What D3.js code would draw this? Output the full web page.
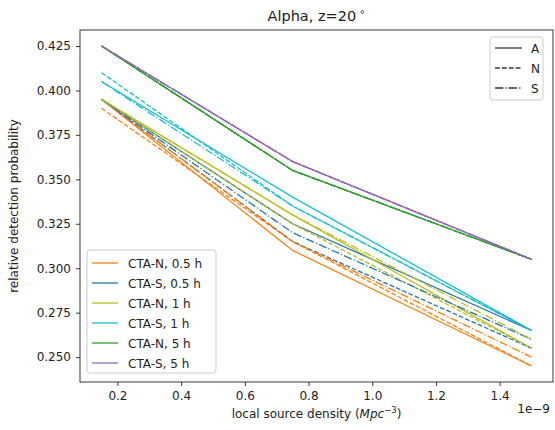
<!DOCTYPE html>
<html>
<head>
<meta charset="utf-8">
<script src="https://cdn.jsdelivr.net/npm/d3@7"></script>
<style>
  body { margin: 0; background: #fff; }
  svg text { font-family: "DejaVu Sans", sans-serif; fill: #222; }
</style>
</head>
<body>
<div id="chart"></div>
<script>
// densities in units of 1e-9 Mpc^-3
const densities = [0.15, 0.75, 1.5]
const xTicks = [0.2, 0.4, 0.6, 0.8, 1.0, 1.2, 1.4]
const yTicks = [0.250, 0.275, 0.300, 0.325, 0.350, 0.375, 0.400, 0.425]

const seriesNames = ['CTA-N, 0.5 h', 'CTA-S, 0.5 h', 'CTA-N, 1 h', 'CTA-S, 1 h', 'CTA-N, 5 h', 'CTA-S, 5 h']
const seriesColors = ['#ff7f0e', '#1f77b4', '#bcbd22', '#17becf', '#2ca02c', '#9467bd']
const styleNames = ['A', 'N', 'S']

// values per series, for A (solid), N (dashed), S (dash-dot)
const valuesA = [
  [0.395, 0.310, 0.245],
  [0.395, 0.325, 0.265],
  [0.395, 0.330, 0.255],
  [0.405, 0.340, 0.265],
  [0.425, 0.355, 0.305],
  [0.425, 0.360, 0.305]
]
const valuesN = [
  [0.390, 0.315, 0.245],
  [0.395, 0.315, 0.255],
  [0.395, 0.325, 0.255],
  [0.410, 0.335, 0.265],
  [0.425, 0.355, 0.305],
  [0.425, 0.360, 0.305]
]
const valuesS = [
  [0.395, 0.315, 0.250],
  [0.395, 0.320, 0.260],
  [0.395, 0.330, 0.260],
  [0.405, 0.335, 0.265],
  [0.425, 0.355, 0.305],
  [0.425, 0.360, 0.305]
]

const W = 555, H = 430
const margin = {left: 80, right: 2, top: 30, bottom: 48}
const lw = 1.3
const dashes = ['', `${3.7*lw},${1.6*lw}`, `${6.4*lw},${1.6*lw},${1*lw},${1.6*lw}`]

const svg = d3.select('#chart').append('svg')
  .attr('width', W)
  .attr('height', H)

const x = d3.scaleLinear().domain([0.0825, 1.5675]).range([margin.left, W - margin.right])
const y = d3.scaleLinear().domain([0.236, 0.434]).range([H - margin.bottom, margin.top])

const xAxis = svg.append('g')
  .attr('transform', `translate(0,${H - margin.bottom})`)
  .call(d3.axisBottom(x).tickValues(xTicks).tickFormat(d3.format('.1f')).tickSize(4).tickPadding(5))
const yAxis = svg.append('g')
  .attr('transform', `translate(${margin.left},0)`)
  .call(d3.axisLeft(y).tickValues(yTicks).tickFormat(d3.format('.3f')).tickSize(4).tickPadding(5))
for (const ax of [xAxis, yAxis]) {
  ax.select('.domain').remove()
  ax.selectAll('text').attr('font-size', 12).attr('font-family', 'DejaVu Sans').style('fill', '#222')
  ax.selectAll('line').attr('stroke', '#222').attr('stroke-width', 0.9)
}

const line = d3.line().x((d, i) => x(densities[i])).y(d => y(d))
const allValues = [valuesA, valuesN, valuesS]

const plot = svg.append('g')
allValues.forEach((vals, s) => {
  vals.forEach((v, k) => {
    plot.append('path')
      .datum(v)
      .attr('d', line)
      .attr('fill', 'none')
      .attr('stroke', seriesColors[k])
      .attr('stroke-width', lw)
      .attr('stroke-dasharray', dashes[s] || null)
  })
})

svg.append('rect')
  .attr('x', margin.left).attr('y', margin.top)
  .attr('width', W - margin.right - margin.left)
  .attr('height', H - margin.bottom - margin.top)
  .attr('fill', 'none').attr('stroke', '#222').attr('stroke-width', 0.9)

// title and labels
svg.append('text').attr('x', (margin.left + W - margin.right) / 2).attr('y', 21)
  .attr('text-anchor', 'middle').attr('font-size', 14.5)
  .html('Alpha, z=20<tspan dx="3" dy="-6" font-size="10">∘</tspan>')

svg.append('text')
  .attr('transform', `translate(18,${(margin.top + H - margin.bottom) / 2}) rotate(-90)`)
  .attr('text-anchor', 'middle').attr('font-size', 12)
  .text('relative detection probability')

svg.append('text').attr('x', (margin.left + W - margin.right) / 2).attr('y', 418)
  .attr('text-anchor', 'middle').attr('font-size', 12)
  .html('local source density (<tspan font-style="italic">Mpc</tspan><tspan dy="-5" font-size="8.5">−3</tspan><tspan dy="5">)</tspan>')

svg.append('text').attr('x', W - 5).attr('y', 413)
  .attr('text-anchor', 'end').attr('font-size', 12)
  .text('1e−9')

// series legend (lower left)
const leg1 = svg.append('g').attr('transform', 'translate(87,250)')
leg1.append('rect').attr('width', 129).attr('height', 123).attr('rx', 3)
  .attr('fill', 'white').attr('fill-opacity', 0.8).attr('stroke', '#ccc')
seriesNames.forEach((name, k) => {
  const yy = 13 + k * 20
  leg1.append('line').attr('x1', 5).attr('x2', 31).attr('y1', yy).attr('y2', yy)
    .attr('stroke', seriesColors[k]).attr('stroke-width', lw)
  leg1.append('text').attr('x', 41).attr('y', yy + 4.5).attr('font-size', 12).text(name)
})

// style legend (upper right)
const leg2 = svg.append('g').attr('transform', 'translate(490,37)')
leg2.append('rect').attr('width', 53).attr('height', 63).attr('rx', 3)
  .attr('fill', 'white').attr('fill-opacity', 0.8).attr('stroke', '#ccc')
styleNames.forEach((name, s) => {
  const yy = 11 + s * 20
  leg2.append('line').attr('x1', 5).attr('x2', 32).attr('y1', yy).attr('y2', yy)
    .attr('stroke', '#333').attr('stroke-width', lw)
    .attr('stroke-dasharray', dashes[s] || null)
  leg2.append('text').attr('x', 41).attr('y', yy + 4.5).attr('font-size', 12).text(name)
})
</script>
</body>
</html>
